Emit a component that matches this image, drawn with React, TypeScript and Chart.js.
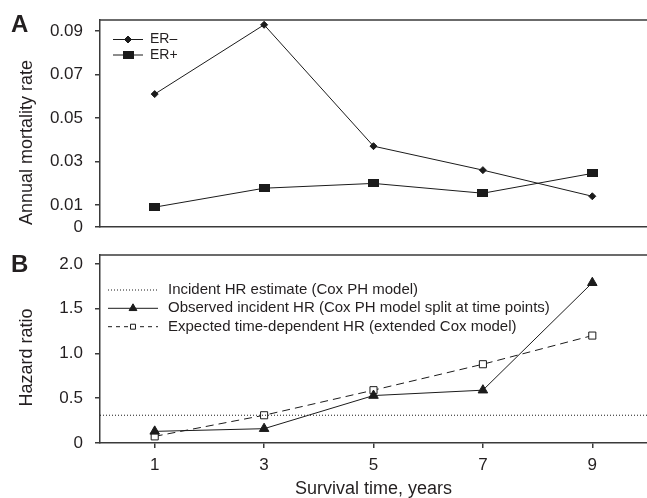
import React, { useEffect, useRef } from 'react';
import { Chart, registerables } from 'chart.js';
import { drawPoint } from 'chart.js/helpers';

Chart.register(...registerables);

// ---------- data ----------
const years = [1, 3, 5, 7, 9];
const erNeg = [0.061, 0.0928, 0.0371, 0.0261, 0.0141];
const erPos = [0.0091, 0.0178, 0.02, 0.0155, 0.0246];
const incidentHR = 0.31;
const observedHR = [0.13, 0.16, 0.53, 0.59, 1.79];
const expectedHR = [0.074, 0.31, 0.59, 0.88, 1.2];

const xTickValues = [1, 3, 5, 7, 9];
const topTickValues = [0, 0.01, 0.03, 0.05, 0.07, 0.09];
const topTickLabels = ['0', '0.01', '0.03', '0.05', '0.07', '0.09'];
const bottomTickValues = [0, 0.5, 1.0, 1.5, 2.0];
const bottomTickLabels = ['0', '0.5', '1.0', '1.5', '2.0'];

const legendA = ['ER–', 'ER+'];
const legendB = [
  'Incident HR estimate (Cox PH model)',
  'Observed incident HR (Cox PH model split at time points)',
  'Expected time-dependent HR (extended Cox model)',
];

const FONT = "'Liberation Sans', Arial, Helvetica, sans-serif";
const LINE = '#1b1b1b';
const AXIS = '#3a3a3a';
const TEXT = '#231f20';

const pts = (ys: number[]) => years.map((x, i) => ({ x, y: ys[i] }));

const legendPlugin = {
  id: 'customLegend',
  afterDatasetsDraw(chart: any, _args: any, o: any) {
    const { ctx, chartArea } = chart;
    ctx.save();
    chart.data.datasets.forEach((ds: any, i: number) => {
      const y = chartArea.top + o.rowY[i];
      const x0 = chartArea.left + o.lineStart;
      const x1 = chartArea.left + o.lineEnd;
      ctx.strokeStyle = ds.borderColor;
      ctx.lineWidth = ds.borderWidth;
      ctx.setLineDash((o.dash && o.dash[i]) || ds.borderDash || []);
      ctx.beginPath();
      ctx.moveTo(x0, y);
      ctx.lineTo(x1, y);
      ctx.stroke();
      ctx.setLineDash([]);
      if (ds.pointRadius > 0) {
        ctx.fillStyle = ds.pointBackgroundColor;
        ctx.strokeStyle = ds.pointBorderColor;
        ctx.lineWidth = ds.pointBorderWidth;
        drawPoint(ctx, { pointStyle: ds.pointStyle, radius: o.markerRadius ? o.markerRadius[i] : ds.pointRadius, rotation: 0, borderWidth: ds.pointBorderWidth } as any, (x0 + x1) / 2, y);
      }
      ctx.fillStyle = TEXT;
      ctx.font = `${o.fontSize}px ${FONT}`;
      ctx.textBaseline = 'middle';
      ctx.textAlign = 'left';
      ctx.fillText(o.labels[i], chartArea.left + o.textX, y);
    });
    ctx.restore();
  },
};

const decorPlugin = {
  id: 'decor',
  afterDraw(chart: any, _args: any, o: any) {
    const { ctx, chartArea } = chart;
    ctx.save();
    ctx.strokeStyle = AXIS;
    ctx.lineWidth = 1.5;
    ctx.beginPath();
    ctx.moveTo(chartArea.left, chartArea.top);
    ctx.lineTo(chartArea.right, chartArea.top);
    ctx.stroke();
    ctx.fillStyle = TEXT;
    ctx.font = `bold 24px ${FONT}`;
    ctx.textAlign = 'left';
    ctx.textBaseline = 'middle';
    ctx.fillText(o.letter, o.letterX, o.letterY);
    ctx.font = `18px ${FONT}`;
    ctx.translate(o.titleX, (chartArea.top + chartArea.bottom) / 2 + o.titleOffset);
    ctx.rotate(-Math.PI / 2);
    ctx.textAlign = 'center';
    ctx.fillText(o.title, 0, 0);
    ctx.restore();
  },
};

const zeroPad = (s: any) => {
  s.paddingTop = 0;
  s.paddingBottom = 0;
  s.paddingLeft = 0;
  s.paddingRight = 0;
};

export default function App() {
  const topRef = useRef<HTMLCanvasElement>(null);
  const botRef = useRef<HTMLCanvasElement>(null);

  useEffect(() => {
    const sq = document.createElement('canvas');
    sq.width = 11;
    sq.height = 8;
    const c = sq.getContext('2d')!;
    c.fillStyle = LINE;
    c.fillRect(0, 0, 11, 8);

    const tickFont = { family: FONT, size: 17 };

    const topChart = new Chart(topRef.current!, {
      type: 'line',
      data: {
        datasets: [
          {
            label: legendA[0],
            data: pts(erNeg),
            borderColor: LINE,
            borderWidth: 1,
            pointStyle: 'rectRot',
            pointRadius: 3.5,
            pointBackgroundColor: LINE,
            pointBorderColor: LINE,
            pointBorderWidth: 1,
          },
          {
            label: legendA[1],
            data: pts(erPos),
            borderColor: LINE,
            borderWidth: 1,
            pointStyle: sq as any,
            pointRadius: 5,
            pointBackgroundColor: LINE,
            pointBorderColor: LINE,
            pointBorderWidth: 1,
          },
        ] as any,
      },
      options: {
        animation: false,
        responsive: false,
        layout: { autoPadding: false, padding: { top: 20, left: 0, right: 0, bottom: 0 } },
        scales: {
          x: {
            type: 'linear',
            min: 0,
            max: 10,
            afterBuildTicks: (s: any) => {
              s.ticks = xTickValues.map((v) => ({ value: v }));
            },
            afterFit: (s: any) => {
              s.height = 13;
              zeroPad(s);
            },
            ticks: { display: false },
            grid: { display: false },
            border: { display: true, color: AXIS, width: 1.5 },
          },
          y: {
            type: 'linear',
            min: 0,
            max: 0.095,
            afterBuildTicks: (s: any) => {
              s.ticks = topTickValues.map((v) => ({ value: v }));
            },
            afterFit: (s: any) => {
              s.width = 100;
              zeroPad(s);
            },
            ticks: {
              font: tickFont,
              color: TEXT,
              padding: 12,
              callback: (_v: any, i: number) => topTickLabels[i],
            },
            grid: { drawOnChartArea: false, drawTicks: true, tickLength: 5, color: AXIS, lineWidth: 1.5 },
            border: { display: true, color: AXIS, width: 1.5 },
          },
        },
        plugins: {
          legend: { display: false },
          tooltip: { enabled: false },
          customLegend: {
            rowY: [19.5, 35],
            lineStart: 13,
            lineEnd: 43,
            textX: 50,
            fontSize: 14,
            labels: legendA,
          },
          decor: { letter: 'A', letterX: 11, letterY: 25, title: 'Annual mortality rate', titleX: 27, titleOffset: 19 },
        } as any,
      },
      plugins: [legendPlugin, decorPlugin],
    });

    const botChart = new Chart(botRef.current!, {
      type: 'line',
      data: {
        datasets: [
          {
            label: legendB[0],
            data: [
              { x: 0, y: incidentHR },
              { x: 10, y: incidentHR },
            ],
            borderColor: LINE,
            borderWidth: 1,
            borderDash: [1, 2],
            pointRadius: 0,
          },
          {
            label: legendB[1],
            data: pts(observedHR),
            borderColor: LINE,
            borderWidth: 1,
            pointStyle: 'triangle',
            pointRadius: 5.5,
            pointBackgroundColor: LINE,
            pointBorderColor: LINE,
            pointBorderWidth: 1,
          },
          {
            label: legendB[2],
            data: pts(expectedHR),
            borderColor: LINE,
            borderWidth: 1,
            borderDash: [8, 5],
            pointStyle: 'rect',
            pointRadius: 5,
            pointBackgroundColor: '#ffffff',
            pointBorderColor: LINE,
            pointBorderWidth: 1,
          },
        ] as any,
      },
      options: {
        animation: false,
        responsive: false,
        layout: { autoPadding: false, padding: { top: 15, left: 0, right: 0, bottom: 0 } },
        scales: {
          x: {
            type: 'linear',
            min: 0,
            max: 10,
            afterBuildTicks: (s: any) => {
              s.ticks = xTickValues.map((v) => ({ value: v }));
            },
            afterFit: (s: any) => {
              s.height = 55;
              zeroPad(s);
            },
            ticks: { font: tickFont, color: TEXT, padding: 7, maxRotation: 0, autoSkip: false },
            grid: { drawOnChartArea: false, drawTicks: true, tickLength: 5, color: AXIS, lineWidth: 1.5 },
            border: { display: true, color: AXIS, width: 1.5 },
            title: {
              display: true,
              text: 'Survival time, years',
              font: { family: FONT, size: 18, lineHeight: 1 },
              color: TEXT,
              padding: 0,
            },
          },
          y: {
            type: 'linear',
            min: 0,
            max: 2.1,
            afterBuildTicks: (s: any) => {
              s.ticks = bottomTickValues.map((v) => ({ value: v }));
            },
            afterFit: (s: any) => {
              s.width = 100;
              zeroPad(s);
            },
            ticks: {
              font: tickFont,
              color: TEXT,
              padding: 12,
              callback: (_v: any, i: number) => bottomTickLabels[i],
            },
            grid: { drawOnChartArea: false, drawTicks: true, tickLength: 5, color: AXIS, lineWidth: 1.5 },
            border: { display: true, color: AXIS, width: 1.5 },
          },
        },
        plugins: {
          legend: { display: false },
          tooltip: { enabled: false },
          customLegend: {
            rowY: [35, 53.3, 71.7],
            lineStart: 8,
            lineEnd: 58,
            textX: 68,
            fontSize: 15,
            labels: legendB,
            dash: [[1, 2], [], [4, 4]],
            markerRadius: [0, 4.5, 3.5],
          },
          decor: { letter: 'B', letterX: 11, letterY: 25, title: 'Hazard ratio', titleX: 27, titleOffset: 8.5 },
        } as any,
      },
      plugins: [legendPlugin, decorPlugin],
    });

    return () => {
      topChart.destroy();
      botChart.destroy();
    };
  }, []);

  return (
    <div style={{ position: 'absolute', left: 0, top: 0, width: 647, height: 498, background: '#ffffff' }}>
      <canvas ref={topRef} width={647} height={240} style={{ position: 'absolute', left: 0, top: 0 }} />
      <canvas ref={botRef} width={647} height={258} style={{ position: 'absolute', left: 0, top: 240 }} />
    </div>
  );
}
